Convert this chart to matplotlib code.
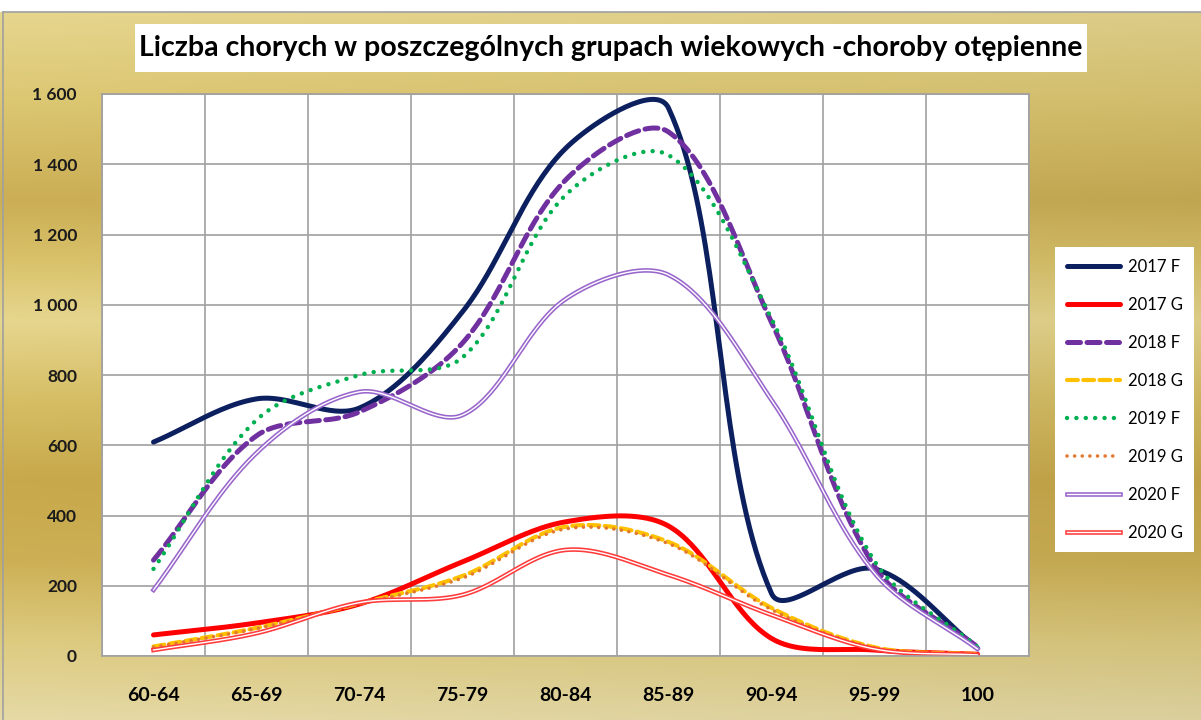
import numpy as np
import matplotlib.pyplot as plt
import matplotlib.patheffects as pe
from matplotlib.patches import Rectangle
from matplotlib.ticker import FuncFormatter

categories = ['60-64', '65-69', '70-74', '75-79', '80-84', '85-89', '90-94', '95-99', '100']
f2017 = [609, 732, 706, 980, 1445, 1560, 178, 248, 22]
g2017 = [60, 94, 148, 268, 382, 370, 50, 17, 5]
f2018 = [273, 627, 695, 891, 1355, 1492, 950, 255, 26]
g2018 = [27, 80, 150, 228, 368, 325, 137, 25, 5]
f2019 = [248, 672, 800, 850, 1312, 1426, 960, 270, 26]
g2019 = [25, 78, 148, 222, 362, 320, 132, 23, 4]
f2020 = [188, 578, 752, 686, 1016, 1085, 729, 236, 20]
g2020 = [17, 65, 152, 174, 302, 231, 117, 20, 3]

W, H = 1201, 720
FONT = ['Lato', 'DejaVu Sans']


def smooth(vals, sx=103.0, sy=562 / 1600):
    # excel-like smoothed line: cubic bezier through the points, worked out in pixel space
    p = np.column_stack([np.arange(len(vals)) * sx, np.asarray(vals, float) * sy])
    n = len(p)
    t = np.linspace(0, 1, 40)[:, None]
    segs = []
    for i in range(n - 1):
        a, b = p[i], p[i + 1]
        pa = p[i - 1] if i > 0 else a
        pb = p[i + 2] if i + 2 < n else b
        d0 = np.hypot(*(a - pa))
        d1 = np.hypot(*(b - a))
        d2 = np.hypot(*(pb - b))
        c1 = a + (b - pa) * d1 / (d0 + d1) / 3
        c2 = b - (pb - a) * d1 / (d1 + d2) / 3
        q = (1 - t) ** 3 * a + 3 * (1 - t) ** 2 * t * c1 + 3 * (1 - t) * t ** 2 * c2 + t ** 3 * b
        segs.append(q if i == 0 else q[1:])
    q = np.vstack(segs)
    return q[:, 0] / sx, q[:, 1] / sy


fig = plt.figure(figsize=(W / 100, H / 100), dpi=100)

# gold gradient background
bg = fig.add_axes([0, 0, 1, 1])
bg.set_zorder(-1)
ys = [12, 100, 200, 260, 320, 400, 480, 560, 640, 720]
cols = ['#E6D68E', '#DCC772', '#CBAE55', '#D9C26A', '#E6D68E', '#D6BE65', '#C8A94B', '#CDB055', '#DDCB80', '#E6DAA6']
rgb = np.array([[int(c[k:k + 2], 16) / 255 for k in (1, 3, 5)] for c in cols])
yy = np.arange(H)
prof = np.column_stack([np.interp(yy, ys, rgb[:, k]) for k in range(3)])
hx = np.linspace(1.0, 0.95, W)
img = prof[:, None, :] * hx[None, :, None]
img[:12] = 1.0
bg.imshow(np.clip(img, 0, 1), extent=[0, W, H, 0], aspect='auto')
bg.set_xlim(0, W)
bg.set_ylim(H, 0)
bg.axis('off')
bg.plot([3, W, W], [12, 12, 12], color='#A0A0A0', lw=1.2)
bg.plot([3, 3], [12, H], color='#A0A0A0', lw=1.2)

# title box
bg.add_patch(Rectangle((135, 24), 952, 48, facecolor='white', edgecolor='none'))
bg.text(611, 48, 'Liczba chorych w poszczególnych grupach wiekowych -choroby otępienne',
        ha='center', va='center', fontsize=20.5, fontweight='bold', family=FONT,
        color='black')

ax = fig.add_axes([102 / W, 1 - 656 / H, 927 / W, 562 / H])
ax.set_facecolor('white')

x = np.arange(len(categories))

series = [
    ('2017 F', f2017, dict(color='#0C1F5E', lw=3.6, solid_capstyle='round')),
    ('2017 G', g2017, dict(color='#FF0000', lw=3.6, solid_capstyle='round')),
    ('2018 F', f2018, dict(color='#7030A0', lw=3.6, dashes=(2.6, 1.3), dash_capstyle='round')),
    ('2018 G', g2018, dict(color='#FFC000', lw=3.0, dashes=(2.6, 1.3), dash_capstyle='round')),
    ('2019 F', f2019, dict(color='#00B050', lw=3.2, dashes=(0.01, 2.1), dash_capstyle='round')),
    ('2019 G', g2019, dict(color='#E3792E', lw=2.6, dashes=(0.01, 2.1), dash_capstyle='round')),
    ('2020 F', f2020, dict(color='white', lw=1.0,
                           path_effects=[pe.Stroke(linewidth=3.3, foreground='#9966CC'), pe.Normal()])),
    ('2020 G', g2020, dict(color='white', lw=1.0,
                           path_effects=[pe.Stroke(linewidth=3.3, foreground='#FF3B3B'), pe.Normal()])),
]

handles = []
for name, vals, style in series:
    sxv, syv = smooth(vals)
    ln, = ax.plot(sxv, syv, label=name, **style)
    handles.append(ln)

ax.set_xlim(-0.5, len(categories) - 0.5)
ax.set_ylim(0, 1600)
ax.set_yticks(np.arange(0, 1601, 200))
ax.yaxis.set_major_formatter(FuncFormatter(lambda v, p: f'{int(v):,}'.replace(',', ' ')))
ax.set_xticks(x)
ax.set_xticklabels(categories, fontsize=14, fontweight='bold', family=FONT)
for lab in ax.get_yticklabels():
    lab.set_fontsize(12.5)
    lab.set_fontweight('bold')
    lab.set_family(FONT)
    lab.set_color('#1a1a1a')
ax.tick_params(axis='y', length=0, pad=18)
ax.tick_params(axis='x', length=0, pad=22)
ax.set_xticks(np.arange(-0.5, len(categories), 1), minor=True)
ax.tick_params(which='minor', length=0)
ax.grid(True, which='minor', axis='x', color='#A0A0A0', lw=1.2)
ax.grid(True, which='major', axis='y', color='#A0A0A0', lw=1.2)
ax.set_axisbelow(True)
for s in ax.spines.values():
    s.set_color('#A0A0A0')
    s.set_linewidth(1.2)

leg = ax.legend(handles=handles, loc='upper left', bbox_to_anchor=(1055 / W, 1 - 247 / H),
                bbox_transform=fig.transFigure, frameon=True, fancybox=False, framealpha=1,
                edgecolor='none', facecolor='white', handlelength=3.2,
                handletextpad=0.45, labelspacing=1.32, borderpad=0.7, borderaxespad=0,
                prop={'family': FONT, 'size': 12})

fig.savefig('out.png', dpi=100)
